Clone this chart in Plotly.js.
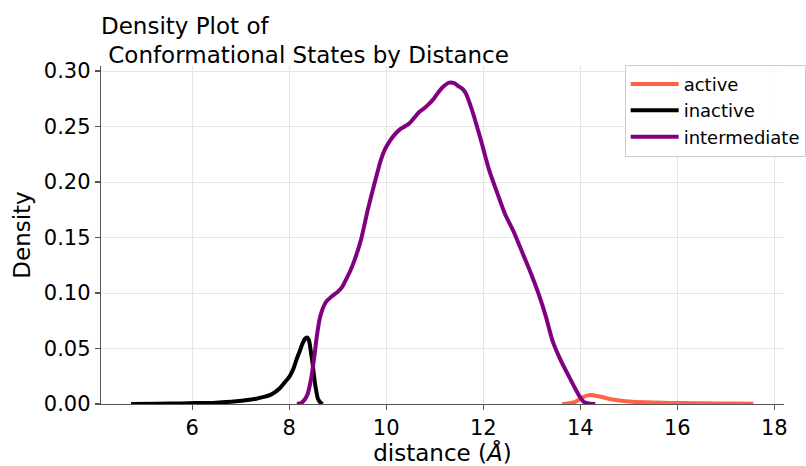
<!DOCTYPE html>
<html>
<head>
<meta charset="utf-8">
<script src="https://cdn.plot.ly/plotly-3.0.1.min.js"></script>
<style>html,body{margin:0;padding:0;background:#fff;}#chart{width:806px;height:466px;}</style>
</head>
<body>
<div id="chart"></div>
<script>
// Series names and colours
const seriesNames = ["active", "inactive", "intermediate"];
const seriesColors = ["#ff6347", "#000000", "#800080"];

// active density curve
const activeX = [13.63, 13.80, 13.90, 14.05, 14.18, 14.38, 14.66, 15.07, 15.50, 15.89, 16.40, 16.80, 17.20, 17.57];
const activeY = [0.000, 0.001, 0.002, 0.006, 0.008, 0.007, 0.004, 0.002, 0.0013, 0.001, 0.0007, 0.0005, 0.0004, 0.0003];

// inactive density curve
const inactiveX = [4.74, 5.30, 5.75, 6.10, 6.43, 6.70, 6.91, 7.10, 7.32, 7.50, 7.60, 7.70, 7.80, 7.90, 8.01, 8.08, 8.15, 8.22, 8.28, 8.33, 8.37, 8.41, 8.44, 8.48, 8.52, 8.56, 8.59, 8.64, 8.69];
const inactiveY = [0.000, 0.0002, 0.0005, 0.0008, 0.001, 0.0017, 0.0025, 0.0034, 0.0048, 0.0066, 0.008, 0.0105, 0.014, 0.019, 0.025, 0.031, 0.040, 0.048, 0.055, 0.059, 0.060, 0.057, 0.049, 0.037, 0.022, 0.011, 0.005, 0.0015, 0.000];

// intermediate density curve
const intermediateX = [8.16, 8.25, 8.32, 8.38, 8.42, 8.46, 8.49, 8.53, 8.56, 8.60, 8.64, 8.70, 8.76, 8.88, 9.00, 9.10, 9.17, 9.26, 9.35, 9.48, 9.62, 9.76, 9.89, 9.98, 10.06, 10.16, 10.27, 10.38, 10.48, 10.58, 10.68, 10.77, 10.85, 10.96, 11.06, 11.18, 11.30, 11.40, 11.50, 11.57, 11.64, 11.72, 11.81, 11.95, 12.12, 12.29, 12.46, 12.63, 12.81, 12.98, 13.15, 13.29, 13.42, 13.59, 13.80, 13.97, 14.07, 14.20, 14.31];
const intermediateY = [0.000, 0.001, 0.004, 0.009, 0.016, 0.025, 0.034, 0.047, 0.058, 0.070, 0.079, 0.087, 0.092, 0.097, 0.101, 0.106, 0.112, 0.120, 0.130, 0.148, 0.175, 0.199, 0.220, 0.230, 0.236, 0.242, 0.247, 0.250, 0.253, 0.258, 0.263, 0.266, 0.269, 0.274, 0.280, 0.286, 0.2895, 0.289, 0.286, 0.284, 0.280, 0.271, 0.259, 0.238, 0.211, 0.190, 0.170, 0.155, 0.136, 0.118, 0.098, 0.079, 0.058, 0.040, 0.022, 0.008, 0.002, 0.0003, 0.000];

// Axis ticks
const xTicks = [6, 8, 10, 12, 14, 16, 18];
const yTicks = [0.00, 0.05, 0.10, 0.15, 0.20, 0.25, 0.30];

const xs = [activeX, inactiveX, intermediateX];
const ys = [activeY, inactiveY, intermediateY];

const traces = seriesNames.map((name, i) => ({
  type: "scatter",
  mode: "lines",
  name: name,
  x: xs[i],
  y: ys[i],
  line: {color: seriesColors[i], width: 4, shape: "spline", smoothing: 0.6},
  hoverinfo: "skip"
}));

const FONT = "DejaVu Sans, sans-serif";
const axisCommon = {
  showline: true,
  linecolor: "#555555",
  linewidth: 1.25,
  mirror: false,
  ticks: "outside",
  ticklen: 5,
  tickwidth: 1.25,
  tickcolor: "#555555",
  showgrid: true,
  gridcolor: "#e6e6e6",
  gridwidth: 1,
  zeroline: false,
  tickfont: {family: FONT, size: 21, color: "#000"},
  automargin: false
};

const layout = {
  width: 806,
  height: 466,
  margin: {l: 101, r: 22, t: 66, b: 62, pad: 0, autoexpand: false},
  paper_bgcolor: "#ffffff",
  plot_bgcolor: "#ffffff",
  font: {family: FONT, color: "#000"},
  showlegend: true,
  title: {
    text: "Density Plot of<br>&nbsp;Conformational States by Distance",
    font: {family: FONT, size: 23, color: "#000"},
    xref: "paper", x: 0, xanchor: "left",
    yref: "container", y: 0.928, yanchor: "top"
  },
  xaxis: Object.assign({}, axisCommon, {
    range: [4.12, 18.2],
    tickvals: xTicks,
    ticktext: xTicks.map(String),
    title: {text: "distance (<i>Å</i>)", font: {family: FONT, size: 23, color: "#000"}, standoff: 6}
  }),
  yaxis: Object.assign({}, axisCommon, {
    range: [0, 0.3045],
    tickvals: yTicks,
    ticktext: yTicks.map(v => v.toFixed(2)),
    title: {text: "Density", font: {family: FONT, size: 23, color: "#000"}, standoff: 6}
  }),
  legend: {
    xref: "container", yref: "container",
    x: 0.775, y: 0.861, xanchor: "left", yanchor: "top",
    itemwidth: 48,
    font: {family: FONT, size: 18, color: "#000"},
    bgcolor: "rgba(255,255,255,0.85)",
    bordercolor: "#cccccc",
    borderwidth: 1
  }
};

Plotly.newPlot("chart", traces, layout, {displayModeBar: false, staticPlot: true});
</script>
</body>
</html>
